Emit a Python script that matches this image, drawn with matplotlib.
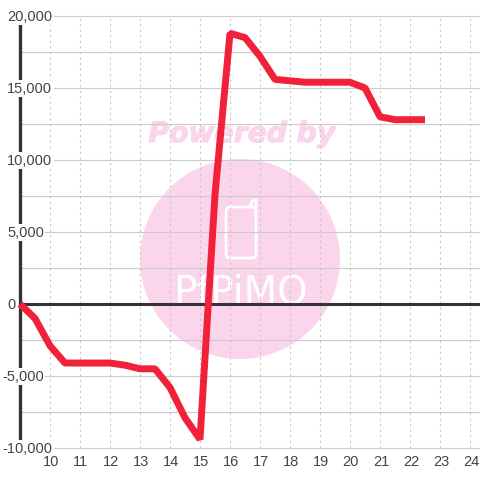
#!/usr/bin/env python3
"""Line chart with a pink watermark behind the grid."""
import matplotlib
matplotlib.use("Agg")
import matplotlib.pyplot as plt
import matplotlib.patheffects as pe
from matplotlib.patches import Circle, FancyBboxPatch

plt.rcParams["font.family"] = ["Liberation Sans", "DejaVu Sans"]

hours = [9, 9.5, 10, 10.5, 11, 11.5, 12, 12.5, 13, 13.5, 14, 14.5, 15, 15.5,
         16, 16.5, 17, 17.5, 18, 18.5, 19, 19.5, 20, 20.5, 21, 21.5, 22, 22.5]
values = [0, -1000, -2900, -4100, -4100, -4100, -4100, -4250, -4500, -4500,
          -5800, -7900, -9400, 7600, 18800, 18500, 17200, 15600, 15500, 15400,
          15400, 15400, 15400, 15000, 13000, 12800, 12800, 12800]
x_ticks = list(range(10, 25))
y_labels = [20000, 15000, 10000, 5000, 0, -5000, -10000]
y_grid = list(range(-10000, 20001, 2500))

PINK = "#fbd5ec"
INK = "#444444"

fig = plt.figure(figsize=(4.8, 4.8), dpi=100, facecolor="white")

# watermark, in pixel coordinates
wm = fig.add_axes([0, 0, 1, 1], zorder=0)
wm.set_xlim(0, 480)
wm.set_ylim(480, 0)
wm.axis("off")
wm.add_patch(Circle((240, 259), 100, color=PINK, lw=0))
wm.add_patch(FancyBboxPatch((226, 207), 30, 51, boxstyle="round,pad=0,rounding_size=4",
                            fc="none", ec="white", lw=2))
wm.plot([250, 253, 256, 256], [207, 200, 200, 207], color="white", lw=2)
wm.text(242, 134, "Powered by", color=PINK, fontsize=20.3, fontweight="bold",
        fontstyle="italic", family="DejaVu Sans", ha="center", va="center",
        path_effects=[pe.withStroke(linewidth=0.8, foreground=PINK)])
wm.text(240, 303, "PfPiMO", color="white", fontsize=28, family="DejaVu Sans",
        ha="center", va="baseline")

ax = fig.add_axes([0, 0, 1, 1], zorder=1)
ax.patch.set_alpha(0)
ax.set_xlim(8 + 1 / 3, 24 + 1 / 3)
ax.set_ylim(-10000 - 32 / 14.4 * 1000, 20000 + 16 / 14.4 * 1000)
ax.axis("off")

ax.hlines(y_grid, 9, 24 + 1 / 3, color="#cccccc", lw=0.85, zorder=1)
ax.vlines(x_ticks, -10000, 20000, color="#c8c8c8", lw=0.8, linestyles=(0, (2, 3)), zorder=1)
ax.hlines(0, 9, 24 + 1 / 3, color="#333333", lw=2.2, zorder=2)
ax.vlines(9, -10000, 20000, color="#333333", lw=2.4, zorder=2)

ax.plot(hours, values, color="#f1213a", lw=5, solid_joinstyle="bevel",
        solid_capstyle="butt", zorder=3)

for v in y_labels:
    # labels share a left edge, the minus sign hangs out to the left
    left = 8.4 if v < 0 else 8.567
    ax.text(left, v - 50, f"{v:,}", color=INK, fontsize=10.5, ha="left", va="center", zorder=4,
            bbox=dict(fc="white", ec="none", pad=1.2))
for t in x_ticks:
    ax.text(t + 0.03, -10960, str(t), color=INK, fontsize=10.5, ha="center", va="center", zorder=4)

fig.savefig("out.png", dpi=100)
